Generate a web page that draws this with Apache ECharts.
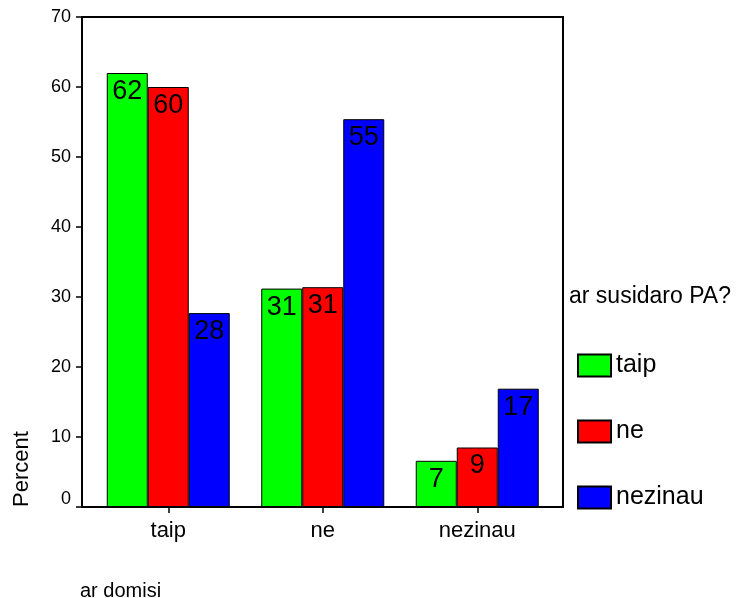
<!DOCTYPE html>
<html>
<head>
<meta charset="utf-8">
<script src="https://cdn.jsdelivr.net/npm/echarts@6/dist/echarts.min.js"></script>
<style>html,body{margin:0;padding:0;background:#fff;}#c{width:736px;height:598px;}</style>
</head>
<body>
<div id="c"></div>
<script>
var categories = ['taip', 'ne', 'nezinau'];
var seriesNames = ['taip', 'ne', 'nezinau'];
var valTaip = [62.0, 31.2, 6.6];
var valNe = [60.0, 31.4, 8.5];
var valNezinau = [27.7, 55.4, 16.9];
var yTicks = [0, 10, 20, 30, 40, 50, 60, 70];
var colors = ['#00ff00', '#ff0000', '#0000ff'];
var FONT = 'Liberation Sans, Arial, sans-serif';

var chart = echarts.init(document.getElementById('c'), null, {renderer: 'canvas'});
var allVals = [valTaip, valNe, valNezinau];
var series = seriesNames.map(function (n, i) {
  return {
    name: n,
    type: 'bar',
    data: allVals[i],
    barWidth: 41,
    barGap: '0%',
    itemStyle: {color: colors[i], borderColor: '#000', borderWidth: 1},
    label: {
      show: true, position: 'insideTop', distance: 5,
      color: '#000', fontSize: 27, fontFamily: FONT,
      formatter: function (p) { return String(Math.round(p.value)); }
    },
    emphasis: {disabled: true}
  };
});

chart.setOption({
  animation: false,
  backgroundColor: '#fff',
  title: [
    {text: 'ar susidaro PA?', left: 569, top: 285, padding: 0,
     textStyle: {fontSize: 23, fontWeight: 'normal', color: '#000', fontFamily: FONT}},
    {text: 'ar domisi', left: 80, top: 581, padding: 0,
     textStyle: {fontSize: 20, fontWeight: 'normal', color: '#000', fontFamily: FONT}}
  ],
  legend: {
    orient: 'vertical', left: 577, top: 353, padding: 0,
    itemWidth: 33, itemHeight: 22, itemGap: 41,
    icon: 'rect',
    textStyle: {fontSize: 25, color: '#000', fontFamily: FONT},
    data: seriesNames
  },
  grid: {left: 91, top: 17, width: 463.5, height: 490, containLabel: false},
  xAxis: {
    type: 'category', data: categories,
    axisLine: {show: false},
    axisTick: {show: true, alignWithLabel: true, length: 6, lineStyle: {color: '#000', width: 1.5}},
    axisLabel: {fontSize: 22, color: '#000', margin: 13, fontFamily: FONT}
  },
  yAxis: {
    type: 'value', min: 0, max: 70, interval: 10, offset: 9,
    axisLine: {show: false},
    splitLine: {show: false},
    axisTick: {show: true, length: 6, lineStyle: {color: '#000', width: 1.5}},
    axisLabel: {
      fontSize: 18, color: '#000', margin: 11, fontFamily: FONT,
      formatter: function (v) { return v === yTicks[0] ? '{z|' + v + '}' : String(v); },
      rich: {z: {fontSize: 18, color: '#000', fontFamily: FONT, padding: [0, 0, 16, 0]}}
    }
  },
  graphic: [
    {type: 'rect', shape: {x: 82, y: 17, width: 481, height: 490}, z: 10, silent: true,
     style: {fill: 'none', stroke: '#000', lineWidth: 2}},
    {type: 'text', x: 22, y: 507, rotation: Math.PI / 2, silent: true,
     style: {text: 'Percent', fontSize: 22, fill: '#000', fontFamily: FONT,
             textAlign: 'left', textVerticalAlign: 'middle'}}
  ],
  series: series
});
</script>
</body>
</html>
